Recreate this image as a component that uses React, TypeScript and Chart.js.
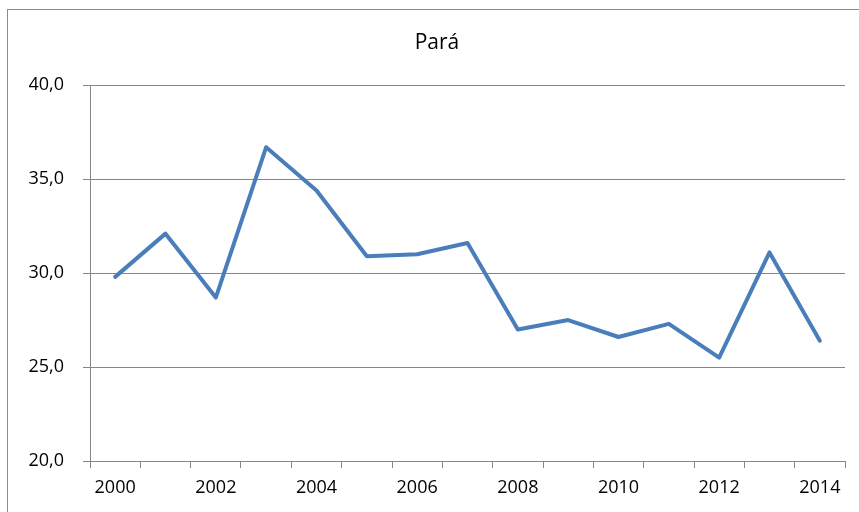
import React, { useEffect, useRef } from "react";
import { Chart, registerables } from "chart.js";

Chart.register(...registerables);

const years: string[] = [
  "2000", "2001", "2002", "2003", "2004", "2005", "2006", "2007",
  "2008", "2009", "2010", "2011", "2012", "2013", "2014",
];
const values: number[] = [
  29.8, 32.1, 28.7, 36.7, 34.4, 30.9, 31.0, 31.6,
  27.0, 27.5, 26.6, 27.3, 25.5, 31.1, 26.4,
];
const title = "Pará";
const yMin = 20;
const yMax = 40;
const yStep = 5;

const FONT = "'Open Sans', 'DejaVu Sans', sans-serif";
const GRID = "#868686";

const framePlugin = {
  id: "frame",
  beforeDraw(chart: any) {
    const ctx = chart.ctx;
    ctx.save();
    ctx.fillStyle = "#ffffff";
    ctx.fillRect(0, 0, chart.width, chart.height);
    ctx.strokeStyle = "#8a8a8a";
    ctx.lineWidth = 1;
    ctx.strokeRect(7.5, 9.5, chart.width + 50, chart.height + 50);
    ctx.restore();
  },
};

export default function App() {
  const ref = useRef<HTMLCanvasElement | null>(null);

  useEffect(() => {
    if (!ref.current) return;
    const chart = new Chart(ref.current, {
      type: "line",
      data: {
        labels: years,
        datasets: [
          {
            data: values,
            borderColor: "#4A7EBB",
            backgroundColor: "#4A7EBB",
            borderWidth: 4,
            pointRadius: 0,
            tension: 0,
            borderJoinStyle: "round",
            borderCapStyle: "round",
          },
        ],
      },
      options: {
        animation: false,
        responsive: false,
        maintainAspectRatio: false,
        layout: { padding: { left: 29, right: 14, top: 0, bottom: 0 } },
        plugins: {
          legend: { display: false },
          tooltip: { enabled: false },
          title: {
            display: true,
            text: title,
            color: "#000000",
            font: { family: FONT, size: 21, weight: "normal" },
            padding: { top: 30, bottom: 30 },
          },
        },
        scales: {
          x: {
            type: "category",
            offset: true,
            grid: {
              display: true,
              offset: true,
              drawOnChartArea: false,
              drawTicks: true,
              tickLength: 7,
              color: GRID,
              lineWidth: 1,
            },
            border: { display: true, color: GRID, width: 1 },
            ticks: {
              autoSkip: false,
              maxRotation: 0,
              minRotation: 0,
              padding: 9,
              color: "#000000",
              font: { family: FONT, size: 18 },
              callback: (_v: any, i: number) => (i % 2 === 0 ? years[i] : ""),
            },
            afterFit: (scale: any) => {
              scale.height = 51;
            },
          },
          y: {
            min: yMin,
            max: yMax,
            grid: {
              color: GRID,
              lineWidth: 1,
              drawTicks: true,
              tickLength: 7,
            },
            border: { display: true, color: GRID, width: 1 },
            ticks: {
              stepSize: yStep,
              padding: 19,
              color: "#000000",
              font: { family: FONT, size: 18 },
              callback: (v: any) => Number(v).toFixed(1).replace(".", ","),
            },
            afterFit: (scale: any) => {
              scale.width = 61;
            },
          },
        },
      },
      plugins: [framePlugin],
    });
    return () => chart.destroy();
  }, []);

  return (
    <div style={{ position: "fixed", left: 0, top: 0, width: 859, height: 512, background: "#fff" }}>
      <canvas ref={ref} width={859} height={512} style={{ display: "block", width: 859, height: 512 }} />
    </div>
  );
}
